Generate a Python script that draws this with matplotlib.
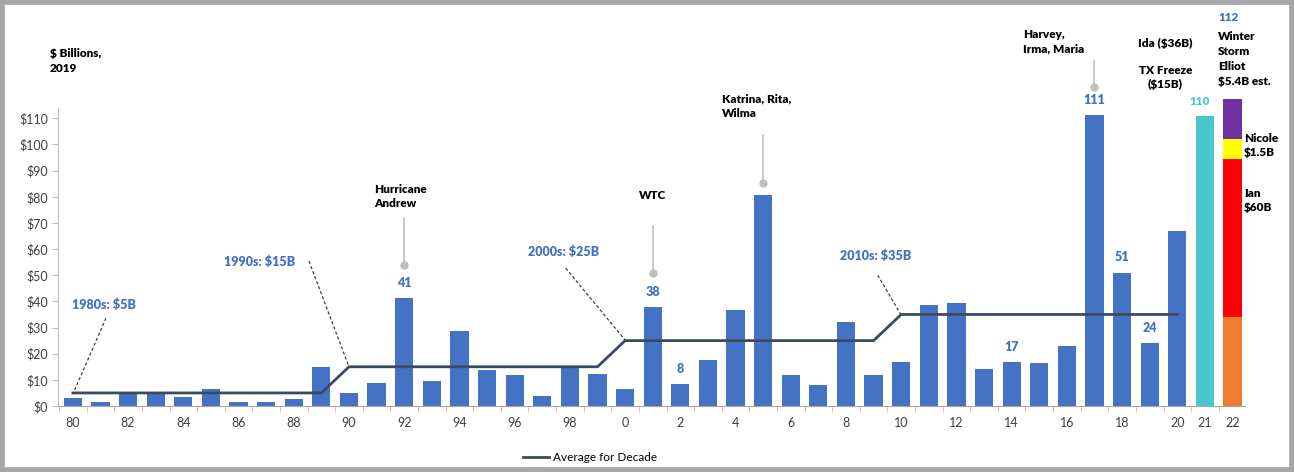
import matplotlib
matplotlib.use("Agg")
import matplotlib.pyplot as plt
from matplotlib.patches import Rectangle
from matplotlib.lines import Line2D

plt.rcParams["font.family"] = ["Lato", "DejaVu Sans"]

# =========================
# data ($ billions, 2019)
# =========================
years = list(range(1980, 2021))
losses = [3.2, 1.7, 4.5, 5.3, 3.6, 6.4, 1.7, 1.7, 2.7, 15.1,
          5.1, 8.7, 41.4, 9.4, 28.6, 13.6, 11.9, 3.8, 14.9, 12.3,
          6.4, 37.8, 8.3, 17.7, 36.7, 80.5, 11.7, 8.1, 32.0, 11.9,
          16.7, 38.5, 39.2, 14.1, 16.7, 16.3, 22.8, 111.3, 51.0, 24.0,
          66.8]

year_2021 = 2021
loss_2021 = 111

year_2022 = 2022
seg_2022 = [34.0, 60.5, 7.5, 15.5]          # orange, red (Ian), yellow (Nicole), purple (Elliot)
seg_colors = ["#ED7D31", "#FF0000", "#FFFF00", "#7030A0"]

decade_start = [1980, 1990, 2000, 2010]
decade_end = [1989, 1999, 2009, 2020]
decade_avg = [5, 15, 25, 35]

tick_years = list(range(1980, 2021, 2)) + [2021, 2022]
tick_labels = [str(y % 100) for y in range(1980, 2021, 2)] + ["21", "22"]
ytick_vals = list(range(0, 111, 10))

value_labels = {1992: "41", 2001: "38", 2002: "8", 2014: "17",
                2017: "111", 2018: "51", 2019: "24"}

BLUE = "#4472C4"
NAVY = "#3B4A5E"
GREY = "#BFBFBF"
BOLD = "heavy"

# =========================
# figure
# =========================
fig = plt.figure(figsize=(12.94, 4.72), dpi=100)
fig.patch.set_facecolor("white")
ax = fig.add_axes([0.0448, 0.1398, 0.9173, 0.665])

ax.bar(years, losses, width=0.66, color=BLUE, zorder=2)
ax.bar(year_2021, loss_2021, width=0.66, color="#4BC6CC", zorder=2, clip_on=False)

bottom = 0
for h, c in zip(seg_2022, seg_colors):
    ax.bar(year_2022, h, bottom=bottom, width=0.72, color=c, zorder=2, clip_on=False)
    bottom += h

# decade average line
line_x, line_y = [], []
for s, e, v in zip(decade_start, decade_end, decade_avg):
    line_x += [s, e]
    line_y += [v, v]
ax.plot(line_x, line_y, color=NAVY, linewidth=2, zorder=3, label="Average for Decade")

ax.set_xlim(1979.46, 2022.45)
ax.set_ylim(0, 120)

ax.spines["top"].set_visible(False)
ax.spines["right"].set_visible(False)
ax.spines["left"].set_color("#BFBFBF")
ax.spines["bottom"].set_color("#A6A6A6")
ax.spines["left"].set_bounds(0, 113.8)

ax.set_yticks(ytick_vals)
ax.set_yticklabels(["$" + str(v) for v in ytick_vals], fontsize=9, color="#404040")
ax.tick_params(axis="y", length=4, color="#BFBFBF", pad=3)

ax.set_xticks(tick_years)
ax.set_xticklabels(tick_labels, fontsize=9, color="#404040")
ax.tick_params(axis="x", length=0, pad=8)
ax.set_xticks([y + 0.5 for y in range(1979, 2022)], minor=True)
ax.tick_params(axis="x", which="minor", length=4, color="#F4B183")

# =========================
# annotations
# =========================
ax.text(1979.17, 132, "$ Billions,\n2019", ha="left", va="center",
        fontsize=8.5, fontweight=BOLD, linespacing=1.4)

decade_notes = [
    ("1980s: $5B", 1979.96, 38.6, (1981.2, 33.6), (1980.0, 4.6)),
    ("1990s: $15B", 1985.48, 55.0, (1988.55, 55.4), (1990.0, 15.0)),
    ("2000s: $25B", 1996.5, 58.8, (1997.85, 52.7), (2000.0, 25.2)),
    ("2010s: $35B", 2007.8, 57.3, (2009.15, 50.0), (2009.98, 35.1)),
]
for txt, tx, ty, p0, p1 in decade_notes:
    ax.text(tx, ty, txt, ha="left", va="center", fontsize=9,
            fontweight=BOLD, color=BLUE)
    ax.plot([p0[0], p1[0]], [p0[1], p1[1]], color="#404040",
            linestyle=(0, (2.5, 1.8)), linewidth=0.9, zorder=4)

events = [
    ("Hurricane\nAndrew", 1990.92, 80.2, "left", 1992, 71.8, 54.0),
    ("WTC", 2001.0, 80.6, "center", 2001, 69.0, 51.0),
    ("Katrina, Rita,\nWilma", 2003.5, 114.6, "left", 2005, 103.5, 85.3),
    ("Harvey,\nIrma, Maria", 2014.4, 139.4, "left", 2017, 132.0, 121.9),
]
for txt, tx, ty, ha, lx, y0, y1 in events:
    ax.text(tx, ty, txt, ha=ha, va="center", fontsize=8.5,
            fontweight=BOLD, linespacing=1.35)
    ax.plot([lx, lx], [y0, y1], color=GREY, linewidth=1.2, clip_on=False)
    ax.plot([lx], [y1], marker="o", markersize=5, color=GREY, clip_on=False)

for yr, lab in value_labels.items():
    v = losses[years.index(yr)]
    ax.text(yr, v + 3.5, lab, ha="center", va="bottom", fontsize=9,
            fontweight=BOLD, color=BLUE)

ax.text(year_2021 - 0.2, loss_2021 + 3.5, "110", ha="center", va="bottom",
        fontsize=8.5, fontweight=BOLD, color="#4BC6CC")
ax.text(2019.55, 138.7, "Ida ($36B)", ha="center", va="center",
        fontsize=8.5, fontweight=BOLD)
ax.text(2019.57, 125.7, "TX Freeze\n($15B)", ha="center", va="center",
        fontsize=8.5, fontweight=BOLD, linespacing=1.35)

ax.text(2021.48, 148.6, "112", ha="left", va="center", fontsize=8.5,
        fontweight=BOLD, color=BLUE)
ax.text(2021.48, 132.7, "Winter\nStorm\nElliot\n$5.4B est.", ha="left",
        va="center", fontsize=8.5, fontweight=BOLD, linespacing=1.45)
ax.text(2022.42, 99.7, "Nicole\n$1.5B", ha="left", va="center",
        fontsize=8.5, fontweight=BOLD, linespacing=1.35)
ax.text(2022.42, 78.7, "Ian\n$60B", ha="left", va="center",
        fontsize=8.5, fontweight=BOLD, linespacing=1.35)

# legend
handle = Line2D([], [], color=NAVY, linewidth=2)
fig.legend([handle], ["Average for Decade"], loc="center",
           bbox_to_anchor=(0.456, 0.03), frameon=False,
           handlelength=2.2, handletextpad=0.4, prop={"size": 8.5})

# grey frame around the picture
fig.patches.append(Rectangle((0, 0), 1, 1, transform=fig.transFigure,
                             fill=False, edgecolor="#A6A6A6", linewidth=7))

fig.savefig("out.png", dpi=100)
